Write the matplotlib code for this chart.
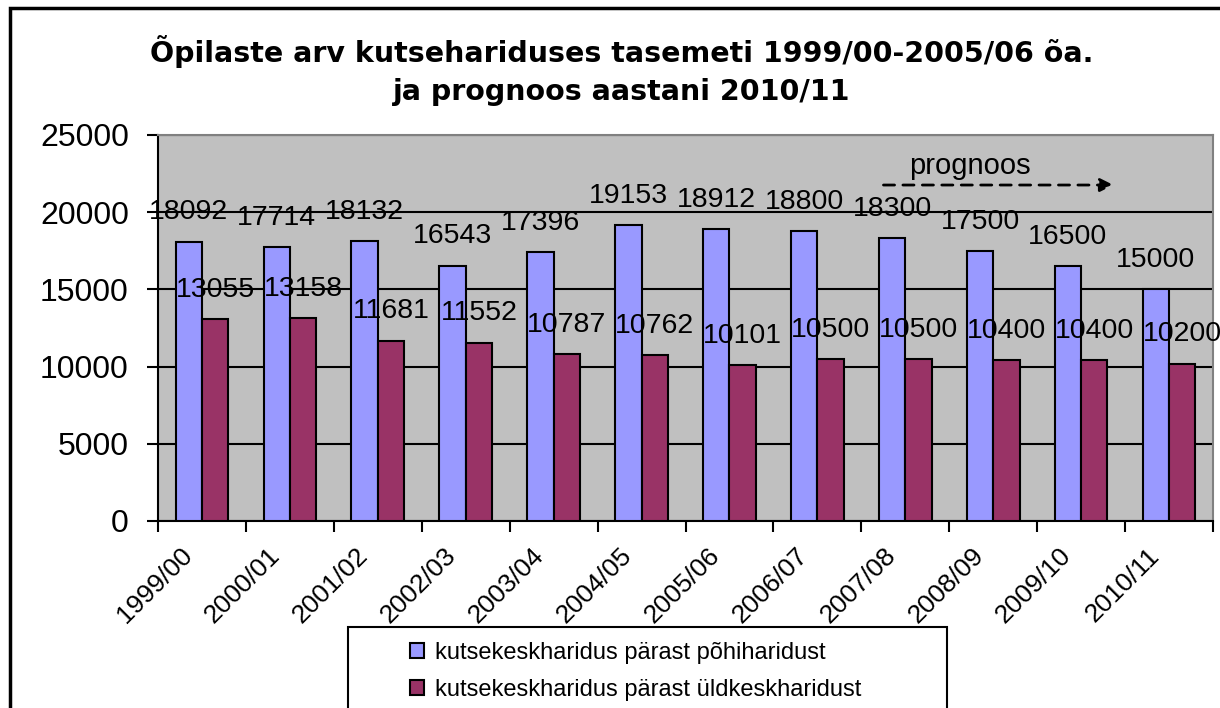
import matplotlib
matplotlib.use("Agg")
import matplotlib.pyplot as plt
import matplotlib.transforms as mtransforms
import numpy as np
from matplotlib.patches import Rectangle

plt.rcParams['font.family'] = ['Liberation Sans', 'DejaVu Sans']

years = ['1999/00', '2000/01', '2001/02', '2002/03', '2003/04', '2004/05',
         '2005/06', '2006/07', '2007/08', '2008/09', '2009/10', '2010/11']
pohi = [18092, 17714, 18132, 16543, 17396, 19153, 18912, 18800, 18300, 17500, 16500, 15000]
yld = [13055, 13158, 11681, 11552, 10787, 10762, 10101, 10500, 10500, 10400, 10400, 10200]
names = ['kutsekeskharidus pärast põhiharidust', 'kutsekeskharidus pärast üldkeskharidust']

blue = '#9999FF'
maroon = '#993366'

fig = plt.figure(figsize=(12.2, 7.08), dpi=100)
ax = fig.add_axes([158/1220, 1-521/708, (1213-158)/1220, (521-135)/708])
ax.set_facecolor('#C0C0C0')

x = np.arange(len(years))
w = 0.3
b1 = ax.bar(x - w/2, pohi, w, color=blue, edgecolor='black', linewidth=1.5, label=names[0], zorder=3)
b2 = ax.bar(x + w/2, yld, w, color=maroon, edgecolor='black', linewidth=1.5, label=names[1], zorder=3)

for bars, vals in [(b1, pohi), (b2, yld)]:
    for r, v in zip(bars, vals):
        ax.annotate(str(v), (r.get_x() + r.get_width()/2, v), xytext=(0, 21),
                    textcoords='offset points', ha='center', va='center',
                    fontsize=20.5, zorder=5, annotation_clip=False)

ax.set_xlim(-0.5, len(years) - 0.5)
ax.set_ylim(0, 25000)
ax.set_yticks(np.arange(0, 25001, 5000))
ax.yaxis.grid(True, color='black', linewidth=1.5, zorder=1)
ax.tick_params(axis='y', labelsize=23, length=8, width=1.5, pad=13)

ax.set_xticks(x)
ax.set_xticklabels(years, rotation=45, ha='right', va='top', rotation_mode='anchor', fontsize=19)
ax.tick_params(axis='x', which='major', length=0, pad=16)
shift = mtransforms.ScaledTranslation(-22/100, 0, fig.dpi_scale_trans)
for lab in ax.get_xticklabels():
    lab.set_transform(lab.get_transform() + shift)
ax.set_xticks(np.arange(-0.5, len(years)), minor=True)
ax.tick_params(axis='x', which='minor', length=8, width=1.5)

for s in ['top', 'right']:
    ax.spines[s].set_color('#808080')
    ax.spines[s].set_linewidth(1.5)
for s in ['left', 'bottom']:
    ax.spines[s].set_linewidth(1.5)

# prognoos arrow
ax.annotate('', xy=(10.4, 21760), xytext=(7.72, 21760),
            arrowprops=dict(arrowstyle='-|>', linestyle=(0, (4, 3)), color='black',
                            lw=2, mutation_scale=20))
ax.text(8.73, 23000, 'prognoos', ha='center', va='center', fontsize=21)

fig.text(622/1220, 1-52/708, 'Õpilaste arv kutsehariduses tasemeti 1999/00-2005/06 õa.',
         ha='center', va='center', fontsize=20.5, fontweight='bold', family='DejaVu Sans')
fig.text(622/1220, 1-92/708, 'ja prognoos aastani 2010/11',
         ha='center', va='center', fontsize=20.5, fontweight='bold', family='DejaVu Sans')

# outer border and legend box
fig.patches.append(Rectangle((10/1220, -0.1), 1.2, 1.1 - 8/708, transform=fig.transFigure,
                             fill=False, edgecolor='black', linewidth=2.5))
fig.patches.append(Rectangle((348/1220, -0.1), 599/1220, 0.1 + 1-627/708, transform=fig.transFigure,
                             fill=False, edgecolor='black', linewidth=1.5))
fig.legend(handles=[b1, b2], loc='upper left', bbox_to_anchor=(410/1220, 1-642/708),
           frameon=False, fontsize=17, handlelength=0.6, handleheight=0.6,
           handletextpad=0.45, labelspacing=0.64, borderpad=0, borderaxespad=0)

fig.savefig('out.png', dpi=100)
